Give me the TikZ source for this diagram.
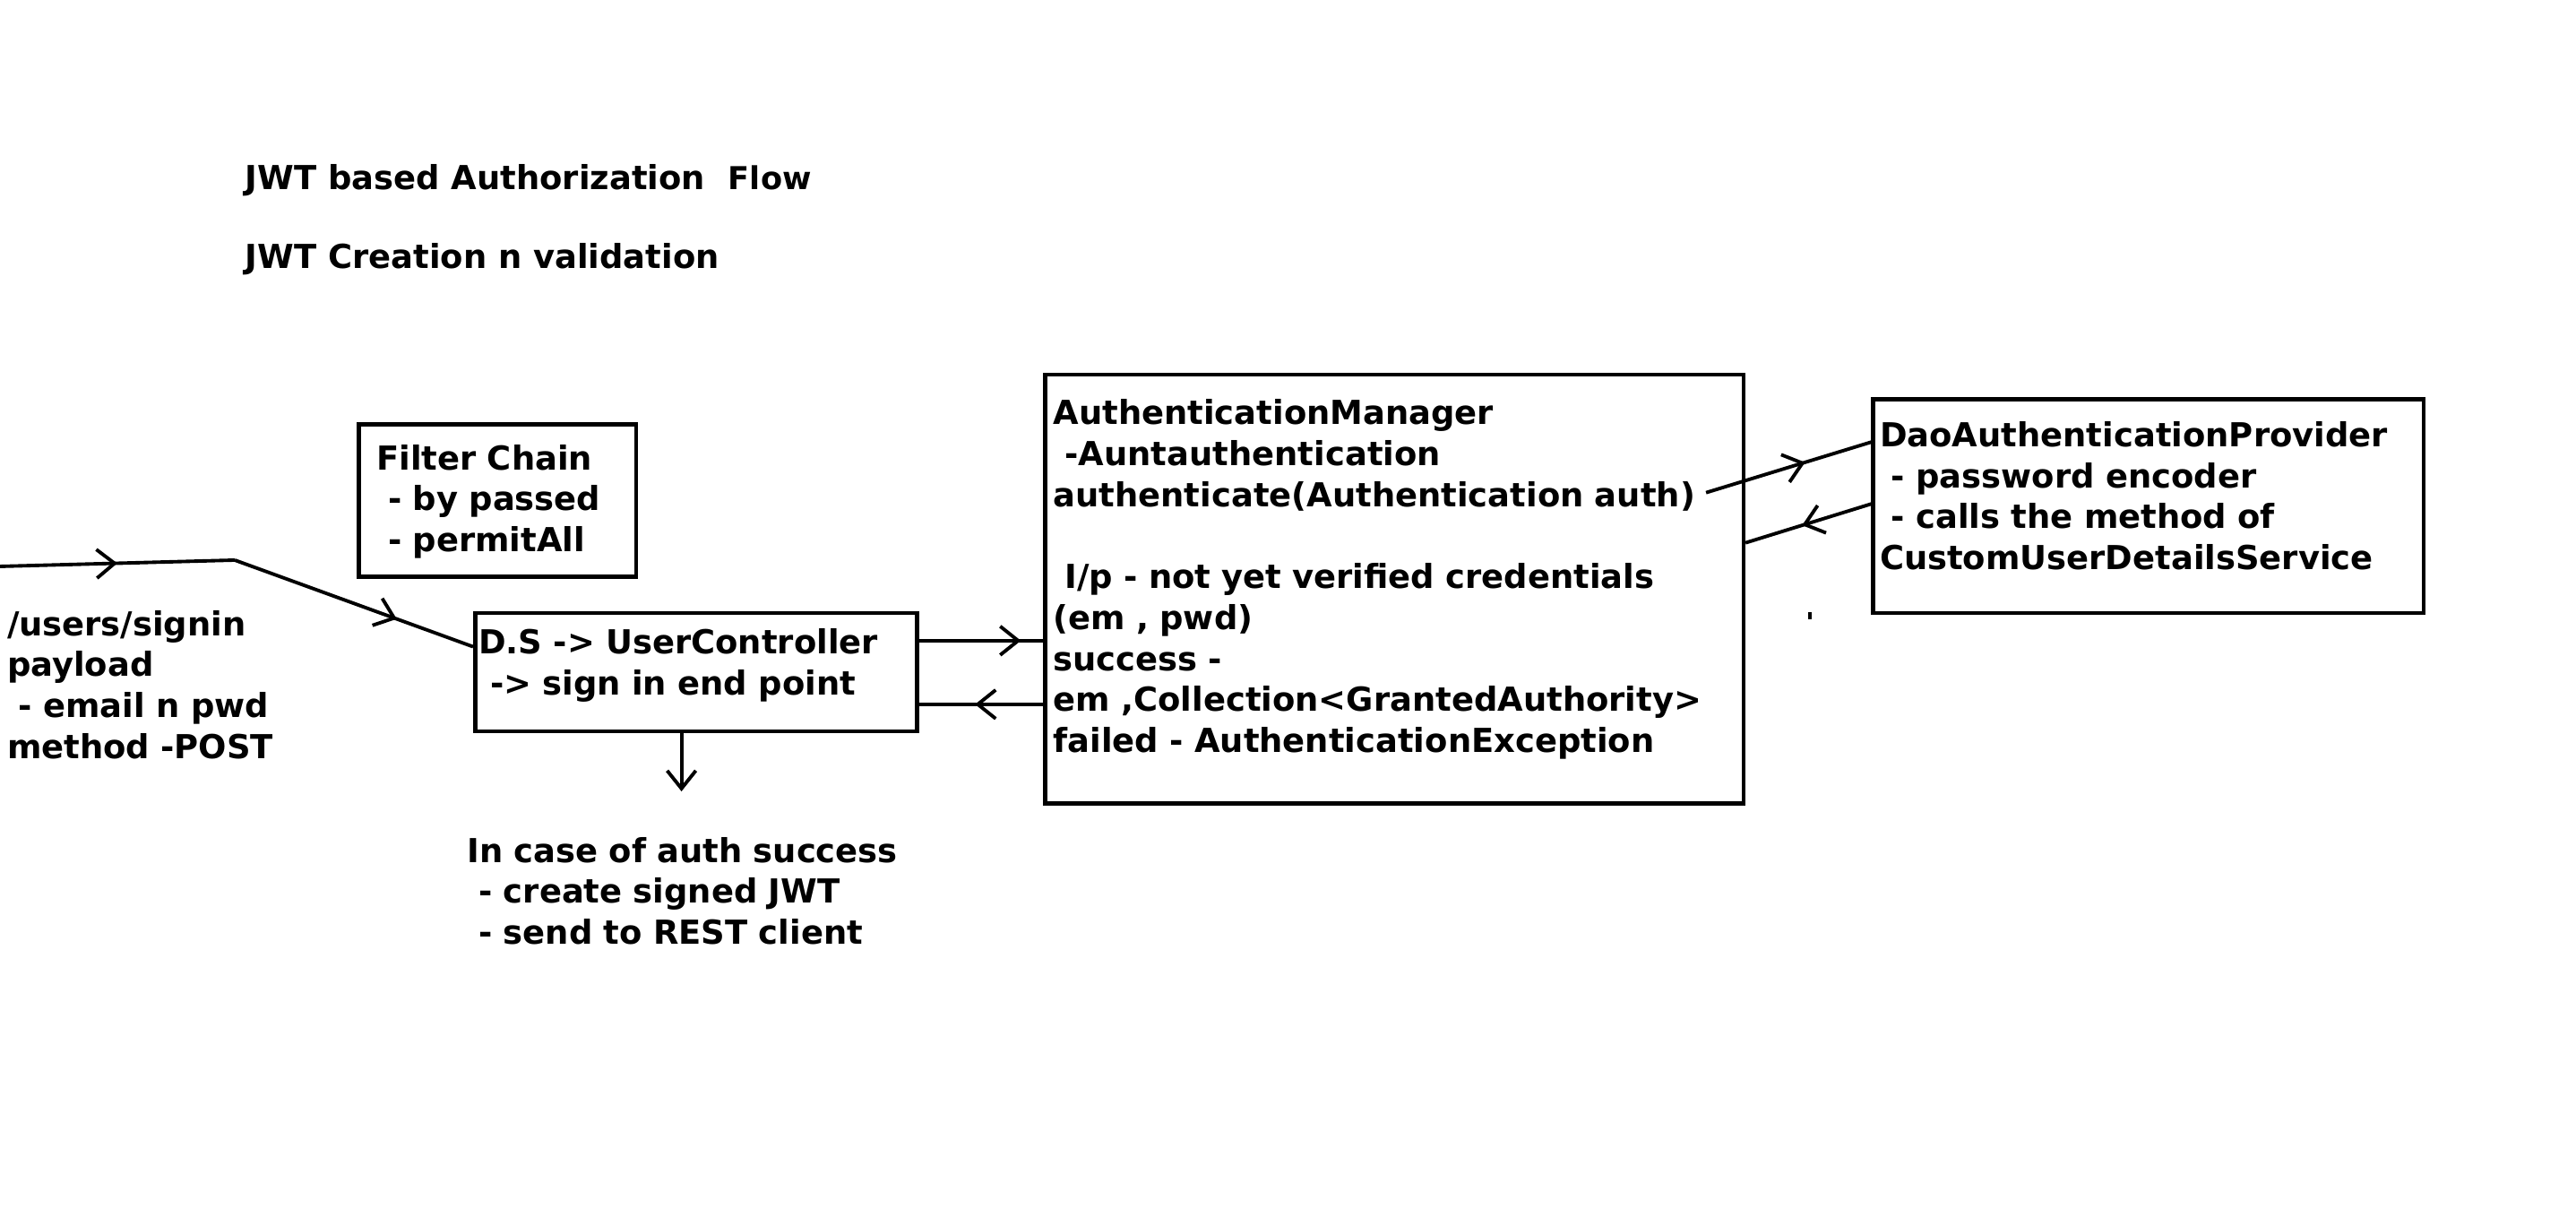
\documentclass[tikz,border=0pt]{standalone}
\usepackage{fontspec}
\setmainfont{DejaVu Sans}
\usetikzlibrary{arrows.meta,decorations.markings}
\newcommand{\indt}{\hspace*{0.35em}}

\begin{document}
\begin{tikzpicture}[
    >={Straight Barb[length=2mm,width=3.2mm]},
    every node/.style={font=\bfseries\fontsize{10.5}{13}\selectfont, inner sep=0pt},
    box/.style={draw, line width=1.3pt, anchor=north west, align=left, inner ysep=0pt},
    txt/.style={anchor=base west, align=left},
    link/.style={line width=1.1pt},
    midarrow/.style={link, postaction={decorate},
        decoration={markings, mark=at position #1 with {\arrow{>}}}},
    midarrow/.default=0.5
]
\useasboundingbox (0,0) rectangle (28.75,13.49);

\node (title) [txt] at (2.73,11.37) {JWT based Authorization\hspace{0.26cm}{\fontsize{10}{12}\selectfont Flow}};
\node (sub)   [txt] at (2.73,10.49) {JWT Creation n validation};

\node (fc)  [box, inner xsep=2mm, text width=26.98mm, text height=5.1mm, text depth=11.95mm] at (3.98,8.78)
    {Filter Chain\\ \indt- by passed\\ \indt- permitAll};
\node (uc)  [box, inner xsep=0.4mm, text width=48.53mm, text height=4.6mm, text depth=8.6mm] at (5.28,6.674)
    {D.S -> UserController\\ \indt-> sign in end point};
\node (am)  [box, inner xsep=0.9mm, text width=76.12mm, text height=5.6mm, text depth=42.26mm] at (11.643,9.333)
    {AuthenticationManager\\ \indt-Auntauthentication\\ authenticate(Authentication auth)\\[13pt]
     \indt I/p - not yet verified credentials\\ (em , pwd)\\ success -\\
     em ,Collection<GrantedAuthority>\\ failed - AuthenticationException};
\node (dao) [box, inner xsep=0.73mm, text width=59.96mm, text height=5.3mm, text depth=18.53mm] at (20.884,9.057)
    {DaoAuthenticationProvider\\ \indt- password encoder\\ \indt- calls the method of\\ CustomUserDetailsService};

\node (req)  [txt, text width=40mm] at (0.073,6.399)
    {/users/signin\\ payload\\ \indt- email n pwd\\ method -POST};
\node (succ) [txt, text width=60mm] at (5.207,3.869)
    {In case of auth success\\ \indt- create signed JWT\\ \indt- send to REST client};

\coordinate (in)    at (0,7.17);
\coordinate (bend)  at (2.62,7.24);
\coordinate (okend) at (7.606,4.66);

% Edges
\draw[midarrow=0.5]  (in) -- (bend);
\draw[midarrow=0.68] (bend) -- ([yshift=-4mm]uc.north west);
\draw[midarrow=0.82] ([yshift=3.5mm]uc.east) -- ([yshift=3.5mm]uc.east -| am.west);
\draw[midarrow=0.55] ([yshift=-3.6mm]uc.east -| am.west) -- ([yshift=-3.6mm]uc.east);
\draw[link,->] (uc.south -| okend) -- (okend);
\draw[midarrow=0.6]  ([xshift=-4.4mm,yshift=-13.4mm]am.north east) -- ([yshift=-5mm]dao.north west);
\draw[midarrow=0.55] ([yshift=-11.9mm]dao.north west) -- ([yshift=-19mm]am.north east);

\draw[line width=1pt] (20.2,6.58) -- (20.2,6.66);

\end{tikzpicture}
\end{document}
